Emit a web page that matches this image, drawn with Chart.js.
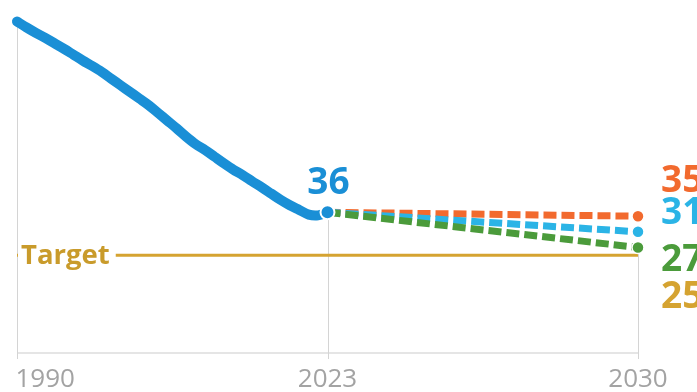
<!DOCTYPE html>
<html lang="en">
<head>
<meta charset="UTF-8">
<title>Emissions pathway to 2030</title>
<script src="https://cdn.jsdelivr.net/npm/chart.js@4.4.1/dist/chart.umd.min.js"></script>
<style>
  html, body { margin: 0; padding: 0; background: #ffffff; }
  #wrap { width: 697px; height: 392px; position: relative; }
</style>
</head>
<body>
<div id="wrap"><canvas id="chart"></canvas></div>
<script>
// Historic series, one value per year
const histYears = [1990, 1991, 1992, 1993, 1994, 1995, 1996, 1997, 1998, 1999,
                   2000, 2001, 2002, 2003, 2004, 2005, 2006, 2007, 2008, 2009,
                   2010, 2011, 2012, 2013, 2014, 2015, 2016, 2017, 2018, 2019,
                   2020, 2021, 2022, 2023];
const histValues = [84.8, 83.3, 81.9, 80.6, 79.2, 77.8, 76.3, 74.8, 73.4, 71.9,
                    70.2, 68.5, 66.8, 65.1, 63.4, 61.4, 59.4, 57.4, 55.3, 53.4,
                    51.9, 50.2, 48.5, 46.9, 45.5, 43.9, 42.4, 40.8, 39.2, 37.8,
                    36.6, 35.4, 35.2, 36];

// 2030 outcomes of the three scenarios, all starting from the 2023 value
const scenarioYear = 2030;
const scenarioValues = [35, 31, 27];
const targetValue = 25;
const tickYears = [1990, 2023, 2030];

const scenarioColors = ['#f26a2e', '#2bb4e6', '#4b9b3b'];
const histColor = '#1a8fd6';
const targetColor = '#d5a331';
const endLabelShift = [-24, -8, 24];   // baseline offsets, keeps the end labels apart
const targetLabelShift = 53;

// Years before the break get the left half of the axis, the projection the right half
const BREAK_YEAR = 2023;
class SplitYearScale extends Chart.LinearScale {
  getPixelForValue(value) {
    const dec = value <= BREAK_YEAR
      ? 0.5 * (value - this.min) / (BREAK_YEAR - this.min)
      : 0.5 + 0.5 * (value - BREAK_YEAR) / (this.max - BREAK_YEAR);
    return this.getPixelForDecimal(dec);
  }
  getValueForPixel(pixel) {
    const dec = this.getDecimalForPixel(pixel);
    return dec <= 0.5
      ? this.min + dec * 2 * (BREAK_YEAR - this.min)
      : BREAK_YEAR + (dec - 0.5) * 2 * (this.max - BREAK_YEAR);
  }
}
SplitYearScale.id = 'splitYear';
SplitYearScale.defaults = Chart.LinearScale.defaults;
Chart.register(SplitYearScale);

const lastHist = histValues[histValues.length - 1];

const scenarioSets = scenarioValues.map((v, i) => ({
  data: [{x: BREAK_YEAR, y: lastHist}, {x: scenarioYear, y: v}],
  borderColor: scenarioColors[i],
  backgroundColor: scenarioColors[i],
  borderWidth: 7,
  borderDash: [13, 5],
  borderCapStyle: 'butt',
  pointRadius: [0, 6],
  pointBorderColor: '#ffffff',
  pointBorderWidth: 1.5,
  order: 3 - i,
  clip: false
}));

const decorations = {
  id: 'decorations',
  beforeDatasetsDraw(chart) {
    const {ctx, chartArea, scales: {x, y}} = chart;
    ctx.save();
    ctx.strokeStyle = '#dcdcdc';
    ctx.lineWidth = 1.5;
    ctx.beginPath();
    ctx.moveTo(chartArea.left, chartArea.bottom);
    ctx.lineTo(chartArea.right, chartArea.bottom);
    ctx.stroke();

    // drop lines from the labelled points to the axis
    const drops = [
      [tickYears[0], histValues[0]],
      [tickYears[1], lastHist],
      [tickYears[2], Math.min(...scenarioValues)]
    ];
    ctx.strokeStyle = '#d4d4d4';
    ctx.lineWidth = 1;
    drops.forEach(([yr, v]) => {
      const px = Math.round(x.getPixelForValue(yr)) + 0.5;
      ctx.beginPath();
      ctx.moveTo(px, y.getPixelForValue(v));
      ctx.lineTo(px, chartArea.bottom + 6);
      ctx.stroke();
    });
    ctx.restore();
  },
  afterDatasetsDraw(chart) {
    const {ctx, chartArea, scales: {x, y}} = chart;
    ctx.save();

    // year labels under the axis
    ctx.font = '26px "Open Sans"';
    ctx.fillStyle = '#a3a3a3';
    ctx.textBaseline = 'alphabetic';
    tickYears.forEach((yr, i) => {
      ctx.textAlign = i === 0 ? 'left' : 'center';
      const px = x.getPixelForValue(yr) + (i === 0 ? -1.5 : 0);
      ctx.fillText(String(yr), px, chartArea.bottom + 34);
    });

    // "Target" tag sitting on the target line
    const ty = y.getPixelForValue(targetValue);
    ctx.font = 'bold 27.5px "Open Sans"';
    const tw = ctx.measureText('Target').width;
    ctx.fillStyle = '#ffffff';
    ctx.fillRect(chartArea.left + 1, ty - 16, tw + 9, 32);
    ctx.fillStyle = '#c99b2b';
    ctx.textAlign = 'left';
    ctx.fillText('Target', chartArea.left + 4, ty + 9);

    // value labels
    ctx.font = 'bold 37px "Open Sans"';
    ctx.textAlign = 'center';
    ctx.fillStyle = histColor;
    ctx.fillText(String(lastHist), x.getPixelForValue(BREAK_YEAR) + 1, y.getPixelForValue(lastHist) - 18);

    ctx.textAlign = 'left';
    const lx = chartArea.right + 23;
    scenarioValues.forEach((v, i) => {
      ctx.fillStyle = scenarioColors[i];
      ctx.fillText(String(v), lx, y.getPixelForValue(v) + endLabelShift[i]);
    });
    ctx.fillStyle = targetColor;
    ctx.fillText(String(targetValue), lx, ty + targetLabelShift);
    ctx.restore();
  }
};

new Chart(document.getElementById('chart'), {
  type: 'line',
  data: {
    datasets: [
      {
        data: histYears.map((yr, i) => ({x: yr, y: histValues[i]})),
        borderColor: histColor,
        backgroundColor: histColor,
        borderWidth: 10,
        borderCapStyle: 'round',
        borderJoinStyle: 'round',
        tension: 0.3,
        pointRadius: ctx => ctx.dataIndex === histYears.length - 1 ? 7 : 0,
        pointBorderColor: '#ffffff',
        pointBorderWidth: 2,
        order: 0,
        clip: false
      },
      ...scenarioSets,
      {
        data: [{x: tickYears[0], y: targetValue}, {x: scenarioYear, y: targetValue}],
        borderColor: targetColor,
        borderWidth: 3,
        pointRadius: 0,
        order: 10,
        clip: false
      }
    ]
  },
  options: {
    responsive: true,
    maintainAspectRatio: false,
    animation: false,
    layout: { padding: { left: 17, right: 59, top: 4, bottom: 39 } },
    plugins: { legend: { display: false }, tooltip: { enabled: false } },
    scales: {
      x: { type: 'splitYear', min: 1990, max: 2030, display: false },
      y: { min: 0, max: 88, display: false }
    }
  },
  plugins: [decorations]
});
</script>
</body>
</html>
